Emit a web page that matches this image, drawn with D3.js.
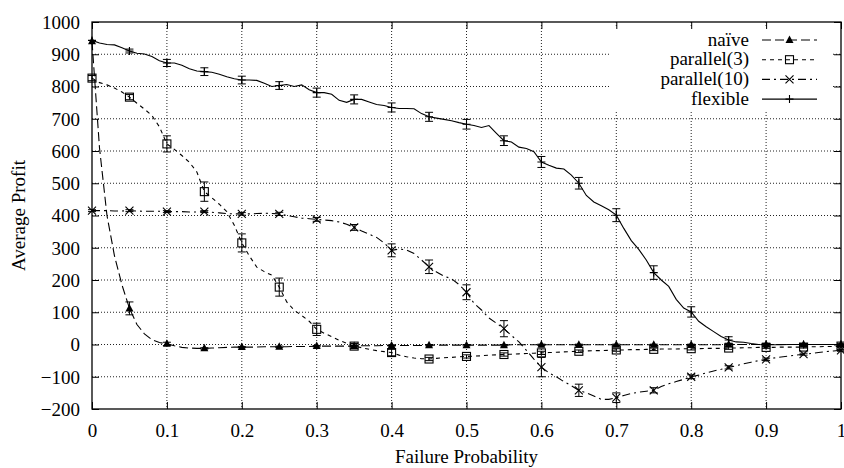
<!DOCTYPE html>
<html>
<head>
<meta charset="utf-8">
<script src="https://cdn.jsdelivr.net/npm/d3@7"></script>
<style>
  html, body { margin: 0; padding: 0; background: #fff; }
  svg { display: block; }
</style>
</head>
<body>
<svg id="chart" width="844" height="468"></svg>
<script>
// ---- Data ----
const failureProb = d3.range(101).map(i => +(i / 100).toFixed(2));
const xTicks = [0, 0.1, 0.2, 0.3, 0.4, 0.5, 0.6, 0.7, 0.8, 0.9, 1];
const yTicks = [-200, -100, 0, 100, 200, 300, 400, 500, 600, 700, 800, 900, 1000];
const seriesNames = ["naïve", "parallel(3)", "parallel(10)", "flexible"];

const naive = [
  940, 610, 400, 275, 185, 112, 62, 33, 15, 6,
  2, -4, -9, -11, -12, -12, -11, -10, -9, -8,
  -8, -8, -8, -7, -7, -7, -7, -6, -6, -6,
  -5, -5, -5, -5, -5, -5, -4, -4, -4, -3,
  -3, -3, -3, -3, -3, -2, -2, -2, -2, -2,
  -2, -2, -2, -2, -2, -2, -1, -1, -1, -1,
  -1, -1, -1, -1, -1, -1, -1, -1, -1, -1,
  -1, -1, -1, -1, -1, -1, -1, -1, -1, -1,
  -1, -1, -1, -1, -1, 0, 0, 0, 0, 0,
  0, 0, 0, 0, 0, 0, 0, 0, 0, 0,
  0
];
const parallel3 = [
  826, 812, 805, 795, 783, 767, 748, 730, 710, 675,
  622, 605, 586, 565, 535, 474, 455, 435, 412, 370,
  315, 275, 240, 226, 215, 178, 132, 106, 90, 72,
  47, 35, 24, 13, 4, -5, -10, -15, -19, -22,
  -25, -33, -38, -42, -44, -45, -43, -41, -40, -38,
  -37, -36, -35, -33, -32, -31, -30, -29, -28, -27,
  -26, -25, -24, -23, -22, -21, -20, -19, -19, -18,
  -17, -17, -16, -16, -15, -15, -14, -14, -14, -13,
  -13, -13, -12, -12, -12, -11, -11, -10, -10, -9,
  -9, -9, -8, -8, -8, -8, -7, -7, -6, -6,
  -5
];
const parallel10 = [
  415, 415, 415, 414, 414, 415, 414, 413, 413, 413,
  412, 412, 412, 411, 411, 412, 410, 408, 406, 405,
  405, 405, 406, 407, 406, 405, 400, 396, 392, 390,
  388, 386, 384, 380, 373, 363, 352, 342, 332, 315,
  292, 296, 293, 282, 262, 241, 225, 212, 204, 186,
  162, 128, 107, 82, 66, 49, 28, 8, -18, -45,
  -70, -88, -100, -115, -128, -142, -150, -160, -170, -170,
  -165, -158, -152, -148, -145, -142, -130, -122, -115, -108,
  -100, -95, -88, -82, -77, -71, -66, -60, -55, -50,
  -46, -42, -39, -36, -33, -30, -28, -25, -22, -20,
  -18
];
const flexible = [
  943, 935, 930, 929, 920, 910, 903, 901, 893, 880,
  873, 873, 866, 855, 848, 846, 844, 838, 830, 824,
  820, 820, 819, 810, 800, 803, 806, 800, 805, 790,
  781, 781, 776, 757, 751, 760, 760, 752, 744, 741,
  735, 732, 732, 731, 716, 706, 702, 698, 694, 688,
  683, 679, 673, 679, 655, 632, 628, 612, 608, 598,
  566, 556, 547, 544, 525, 500, 462, 442, 430, 418,
  401, 360, 322, 295, 262, 223, 200, 180, 140, 113,
  101, 72, 55, 40, 25, 14, 8, 7, 3, 0,
  -1, -1, -1, 0, 0, 0, 0, 0, 0, 0,
  0
];
// error bar half-heights at the marked points (every 0.05)
const naiveErr = [0, 20, 5, 2, 2, 2, 2, 2, 2, 2, 2, 2, 2, 2, 2, 2, 2, 2, 2, 2, 2];
const parallel3Err = [8, 8, 25, 30, 28, 28, 19, 8, 10, 5, 5, 5, 5, 4, 4, 4, 4, 4, 3, 3, 3];
const parallel10Err = [3, 3, 3, 3, 4, 5, 6, 9, 20, 21, 23, 25, 30, 19, 15, 8, 6, 5, 4, 3, 3];
const flexibleErr = [0, 6, 11, 12, 12, 12, 14, 14, 14, 14, 15, 15, 17, 18, 20, 21, 16, 10, 5, 3, 2];

// ---- Layout ----
const svg = d3.select("#chart");
const L = 92, R = 841, T = 22, B = 409;
const x = d3.scaleLinear().domain([0, 1]).range([L, R]);
const y = d3.scaleLinear().domain([-200, 1000]).range([B, T]);
const FS = 19;
const FONT = "'Liberation Serif', 'Times New Roman', Times, serif";

const series = [
  { name: seriesNames[0], vals: naive, err: naiveErr, dash: "9,4", marker: "tri" },
  { name: seriesNames[1], vals: parallel3, err: parallel3Err, dash: "4,4", marker: "sq" },
  { name: seriesNames[2], vals: parallel10, err: parallel10Err, dash: "8,4,2,4", marker: "x" },
  { name: seriesNames[3], vals: flexible, err: flexibleErr, dash: null, marker: "plus" }
];

// grid (dotted)
const grid = svg.append("g").attr("stroke", "#222").attr("stroke-width", 1).attr("stroke-dasharray", "1,2");
xTicks.slice(1, -1).forEach(t => {
  grid.append("line").attr("x1", x(t)).attr("x2", x(t)).attr("y1", T).attr("y2", B);
});
yTicks.slice(1, -1).forEach(t => {
  grid.append("line").attr("x1", L).attr("x2", R).attr("y1", y(t)).attr("y2", y(t));
});

// legend background blanking the grid
svg.append("rect").attr("x", 609).attr("y", 28).attr("width", 223).attr("height", 82).attr("fill", "#fff");

// frame
svg.append("rect").attr("x", L).attr("y", T).attr("width", R - L).attr("height", B - T)
  .attr("fill", "none").attr("stroke", "#000").attr("stroke-width", 1.3);

// axes with inward ticks on all four sides
const tl = 7;
const axB = d3.axisBottom(x).tickValues(xTicks).tickSize(-tl).tickFormat(d => String(d));
const axT = d3.axisTop(x).tickValues(xTicks).tickSize(-tl).tickFormat("");
const axL = d3.axisLeft(y).tickValues(yTicks).tickSize(-tl).tickFormat(d => d < 0 ? "\u2212" + Math.abs(d) : String(d));
const axR = d3.axisRight(y).tickValues(yTicks).tickSize(-tl).tickFormat("");

function styleAxis(g) {
  g.select(".domain").remove();
  g.attr("font-family", null).attr("font-size", null);
  g.selectAll(".tick line").attr("stroke", "#000").attr("stroke-width", 1);
  g.selectAll("text").style("font-family", FONT).style("font-size", FS + "px").attr("fill", "#000");
}
svg.append("g").attr("transform", `translate(0,${B})`).call(axB).call(styleAxis)
  .selectAll("text").attr("y", 27.5).attr("dy", 0);
svg.append("g").attr("transform", `translate(0,${T})`).call(axT).call(styleAxis);
svg.append("g").attr("transform", `translate(${L},0)`).call(axL).call(styleAxis)
  .selectAll("text").attr("x", -12).attr("dy", "0.34em");
svg.append("g").attr("transform", `translate(${R},0)`).call(axR).call(styleAxis);

// axis titles
svg.append("text").attr("x", (L + R) / 2).attr("y", 463).attr("text-anchor", "middle")
  .style("font-family", FONT).style("font-size", FS + "px").text("Failure Probability");
svg.append("text").attr("transform", `translate(25,${(T + B) / 2}) rotate(-90)`)
  .attr("text-anchor", "middle").style("font-family", FONT).style("font-size", FS + "px").text("Average Profit");

// marker drawing
function drawMarker(g, type, cx, cy) {
  const s = 4;
  if (type === "tri") {
    g.append("path").attr("d", `M${cx},${cy - 4.5}L${cx + 4},${cy + 3}L${cx - 4},${cy + 3}Z`).attr("fill", "#000");
  } else if (type === "sq") {
    g.append("rect").attr("x", cx - s).attr("y", cy - s).attr("width", 2 * s).attr("height", 2 * s)
      .attr("fill", "none").attr("stroke", "#000").attr("stroke-width", 1.1);
  } else if (type === "x") {
    g.append("path").attr("d", `M${cx - s},${cy - s}L${cx + s},${cy + s}M${cx - s},${cy + s}L${cx + s},${cy - s}`)
      .attr("stroke", "#000").attr("stroke-width", 1.1);
  } else {
    g.append("path").attr("d", `M${cx - s},${cy}L${cx + s},${cy}M${cx},${cy - s}L${cx},${cy + s}`)
      .attr("stroke", "#000").attr("stroke-width", 1.1);
  }
}

// lines, error bars, markers
const line = d3.line().x((d, i) => x(failureProb[i])).y(d => y(d));
series.forEach(s => {
  const g = svg.append("g");
  g.append("path").attr("d", line(s.vals)).attr("fill", "none").attr("stroke", "#000")
    .attr("stroke-width", 1.1).attr("stroke-dasharray", s.dash);
  s.err.forEach((e, k) => {
    const i = k * 5;
    const cx = x(failureProb[i]), v = s.vals[i];
    if (e > 0) {
      const y1 = y(v - e), y2 = y(v + e);
      g.append("path").attr("d", `M${cx},${y1}L${cx},${y2}M${cx - 4},${y1}L${cx + 4},${y1}M${cx - 4},${y2}L${cx + 4},${y2}`)
        .attr("stroke", "#000").attr("stroke-width", 1).attr("fill", "none");
    }
    drawMarker(g, s.marker, cx, y(v));
  });
});

// legend
const legX1 = 762, legX2 = 817, legTextX = 749;
series.forEach((s, i) => {
  const ly = 40 + i * 19.7;
  svg.append("text").attr("x", legTextX).attr("y", ly + 5.5).attr("text-anchor", "end")
    .style("font-family", FONT).style("font-size", FS + "px").text(s.name);
  svg.append("line").attr("x1", legX1).attr("x2", legX2).attr("y1", ly).attr("y2", ly)
    .attr("stroke", "#000").attr("stroke-width", 1.1).attr("stroke-dasharray", s.dash);
  drawMarker(svg, s.marker, (legX1 + legX2) / 2, ly);
});
</script>
</body>
</html>
